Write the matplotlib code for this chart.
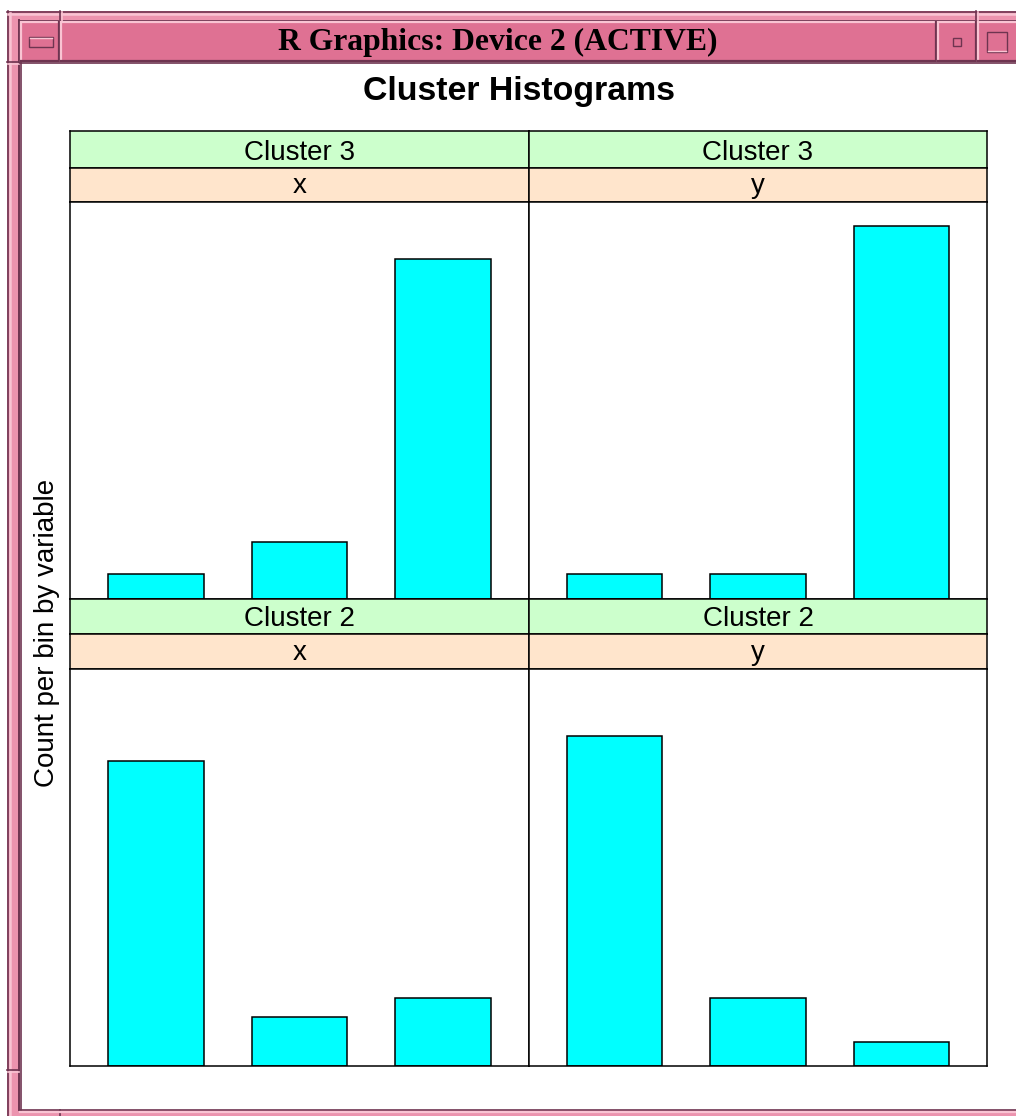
import matplotlib
matplotlib.use("Agg")
import matplotlib.pyplot as plt
from matplotlib.patches import Rectangle

# ---- data: percent of observations per bin, per cluster and variable ----
clusters = ["Cluster 3", "Cluster 2"]
variables = ["x", "y"]
bins = [1, 2, 3]
cluster3_x = [5.9, 13.6, 80.5]
cluster3_y = [5.9, 5.9, 88.3]
cluster2_x = [72.2, 11.6, 16.0]
cluster2_y = [78.2, 16.0, 5.7]

panel_values = {
    ("Cluster 3", "x"): cluster3_x,
    ("Cluster 3", "y"): cluster3_y,
    ("Cluster 2", "x"): cluster2_x,
    ("Cluster 2", "y"): cluster2_y,
}

W, H = 1016, 1116
fig = plt.figure(figsize=(W / 100, H / 100), dpi=100)
fig.patch.set_facecolor("white")

SANS = ["Liberation Sans", "DejaVu Sans"]
SERIF = ["Liberation Serif", "DejaVu Serif"]


def add_ax(x0, y0, x1, y1, **kw):
    return fig.add_axes([x0 / W, 1 - y1 / H, (x1 - x0) / W, (y1 - y0) / H], **kw)


# ---- window decoration (pixel coordinates, y downwards) ----
deco = fig.add_axes([0, 0, 1, 1], zorder=0)
deco.set_xlim(0, W)
deco.set_ylim(H, 0)
deco.axis("off")

PINK = "#DF7193"
FRAME = "#EC93AE"
LIGHT = "#F9C4D3"
DARK = "#6E3450"


def bevel(x0, y0, x1, y1, fill, lw=1.6):
    deco.add_patch(Rectangle((x0, y0), x1 - x0, y1 - y0, facecolor=fill,
                             edgecolor="none"))
    deco.plot([x0, x1], [y0 + 0.8, y0 + 0.8], color=LIGHT, lw=lw,
              solid_capstyle="butt")
    deco.plot([x0 + 0.8, x0 + 0.8], [y0, y1], color=LIGHT, lw=lw,
              solid_capstyle="butt")
    deco.plot([x0, x1], [y1 - 0.8, y1 - 0.8], color=DARK, lw=lw,
              solid_capstyle="butt")
    deco.plot([x1 - 0.8, x1 - 0.8], [y0, y1], color=DARK, lw=lw,
              solid_capstyle="butt")


# outer frame
deco.add_patch(Rectangle((7, 11), W - 7, H - 11, facecolor=FRAME,
                         edgecolor="none"))
deco.plot([7, W], [11.5, 11.5], color=DARK, lw=1.2)
deco.plot([7.5, 7.5], [11, H], color=DARK, lw=1.2)
deco.plot([8, W], [13.5, 13.5], color=LIGHT, lw=1.8)
deco.plot([9.5, 9.5], [13, H], color=LIGHT, lw=1.8)
deco.plot([19, W], [20.5, 20.5], color=DARK, lw=1.4)
deco.plot([18.5, 18.5], [20, 1110], color=DARK, lw=1.4)

# frame corner notches
for x in (60, 976):
    deco.plot([x, x], [11, 21], color=DARK, lw=1.2)
    deco.plot([x + 1.5, x + 1.5], [12, 21], color=LIGHT, lw=1.2)
deco.plot([60, 60], [1110, H], color=DARK, lw=1.2)
for y in (62, 1070):
    deco.plot([7, 19], [y, y], color=DARK, lw=1.2)
    deco.plot([8, 19], [y + 1.5, y + 1.5], color=LIGHT, lw=1.2)

# title bar and buttons
bevel(20, 21, 60, 62, PINK)
bevel(60, 21, 937, 62, PINK)
bevel(937, 21, 977, 62, PINK)
bevel(977, 21, W + 4, 62, PINK)
# menu button glyph
deco.add_patch(Rectangle((29, 37), 24, 10, facecolor=PINK, edgecolor=DARK,
                         lw=1.0))
deco.plot([30, 52], [38, 38], color=LIGHT, lw=1.0)
# iconify glyph
deco.add_patch(Rectangle((953, 38), 8, 8, facecolor=PINK, edgecolor=DARK,
                         lw=1.0))
# maximise glyph
deco.add_patch(Rectangle((987, 32), 20, 20, facecolor=PINK, edgecolor=DARK,
                         lw=1.0))
deco.plot([988, 1006], [51, 51], color=LIGHT, lw=1.0)

deco.text(498, 42, "R Graphics: Device 2 (ACTIVE)", family=SERIF,
          fontweight="bold", fontsize=22.8, ha="center", va="center",
          color="black")

# client area
deco.add_patch(Rectangle((20, 62), W - 20, 1110 - 62, facecolor="white",
                         edgecolor="none"))
deco.plot([20, W], [62.5, 62.5], color=DARK, lw=1.2)
deco.plot([20.5, 20.5], [62, 1110], color=DARK, lw=1.2)
deco.plot([20, W], [1110, 1110], color=DARK, lw=1.2)
deco.plot([20, W], [1111.8, 1111.8], color=LIGHT, lw=1.6)

# ---- lattice-style histogram panels ----
deco.text(519, 100, "Cluster Histograms", family=SANS, fontweight="bold",
          fontsize=24.4, ha="center", va="baseline", color="black")
deco.text(47, 633, "Count per bin by variable", family=SANS, fontsize=20,
          rotation=90, ha="center", va="center", color="black")

col_x = [(70, 529), (529, 987)]
row_y = [(131, 168, 202, 599), (599, 634, 669, 1066)]

STRIP_OUTER = "#CCFFCC"
STRIP_INNER = "#FFE5CC"
LW = 1.1

for r, cl in enumerate(clusters):
    g0, g1, o1, p1 = row_y[r]
    for c, var in enumerate(variables):
        x0, x1 = col_x[c]
        # cluster strip
        s1 = add_ax(x0, g0, x1, g1, zorder=2)
        s1.set_facecolor(STRIP_OUTER)
        s1.text(0.5, 0.225, cl, transform=s1.transAxes, family=SANS,
                fontsize=20, ha="center", va="baseline", color="black")
        # variable strip
        s2 = add_ax(x0, g1, x1, o1, zorder=2)
        s2.set_facecolor(STRIP_INNER)
        s2.text(0.5, 0.26, var, transform=s2.transAxes, family=SANS,
                fontsize=20, ha="center", va="baseline", color="black")
        # histogram panel
        ax = add_ax(x0, o1, x1, p1, zorder=2)
        ax.bar(bins, panel_values[(cl, var)], width=0.665, color="#00FFFF",
               edgecolor="black", linewidth=LW)
        ax.set_xlim(0.4, 3.6)
        ax.set_ylim(0, 94.06)
        for a in (s1, s2, ax):
            a.set_xticks([])
            a.set_yticks([])
            for sp in a.spines.values():
                sp.set_color("black")
                sp.set_linewidth(LW)

fig.savefig("out.png", dpi=100)
